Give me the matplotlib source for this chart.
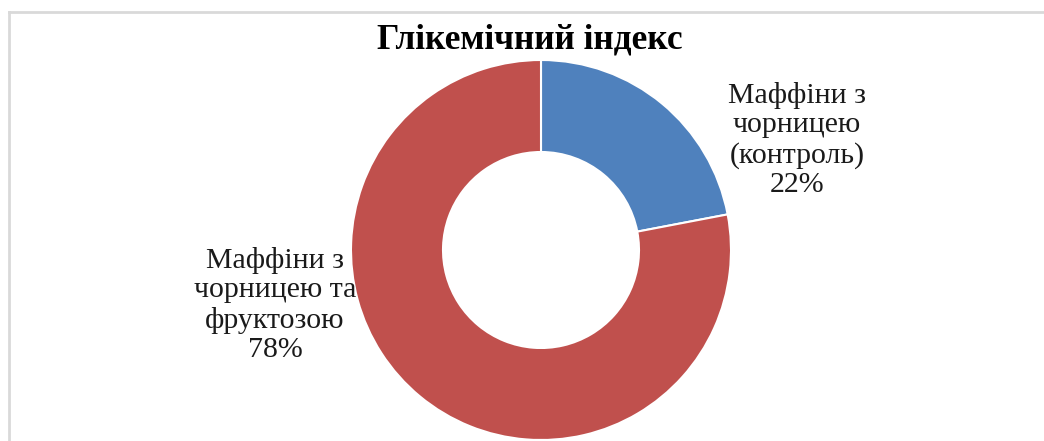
import matplotlib.pyplot as plt
from matplotlib.lines import Line2D

# data
labels = ['Маффіни з\nчорницею\n(контроль)', 'Маффіни з\nчорницею та\nфруктозою']
shares = [22, 78]
colors = ['#4F81BD', '#C0504D']
title = 'Глікемічний індекс'

plt.rcParams['font.family'] = ['Liberation Serif', 'DejaVu Serif']

W, H = 1044, 441
fig = plt.figure(figsize=(W / 100, H / 100), dpi=100)
ax = fig.add_axes([0, 0, 1, 1])

# donut
wedges, _ = ax.pie(shares, colors=colors, startangle=90, counterclock=False,
                   center=(541, H - 250), radius=190, frame=True,
                   wedgeprops=dict(width=92, edgecolor='white', linewidth=1.5))
ax.set_xlim(0, W)
ax.set_ylim(0, H)
ax.set_aspect('equal')
ax.axis('off')

# labels
pos = [(797, H - 140), (275, H - 305)]
for lab, val, (x, y) in zip(labels, shares, pos):
    ax.text(x, y, f'{lab}\n{val}%', ha='center', va='center',
            fontsize=21.5, linespacing=1.15, color='#1a1a1a')

ax.text(530, H - 40, title, ha='center', va='center', fontsize=25.5,
        fontweight='bold', color='black')

# chart border (light gray, cut at right/bottom)
fig.add_artist(Line2D([9, 9], [0, H - 12], transform=None, color='#d9d9d9', lw=2))
fig.add_artist(Line2D([9, W], [H - 12, H - 12], transform=None, color='#d9d9d9', lw=2))

fig.savefig('out.png', dpi=100)
